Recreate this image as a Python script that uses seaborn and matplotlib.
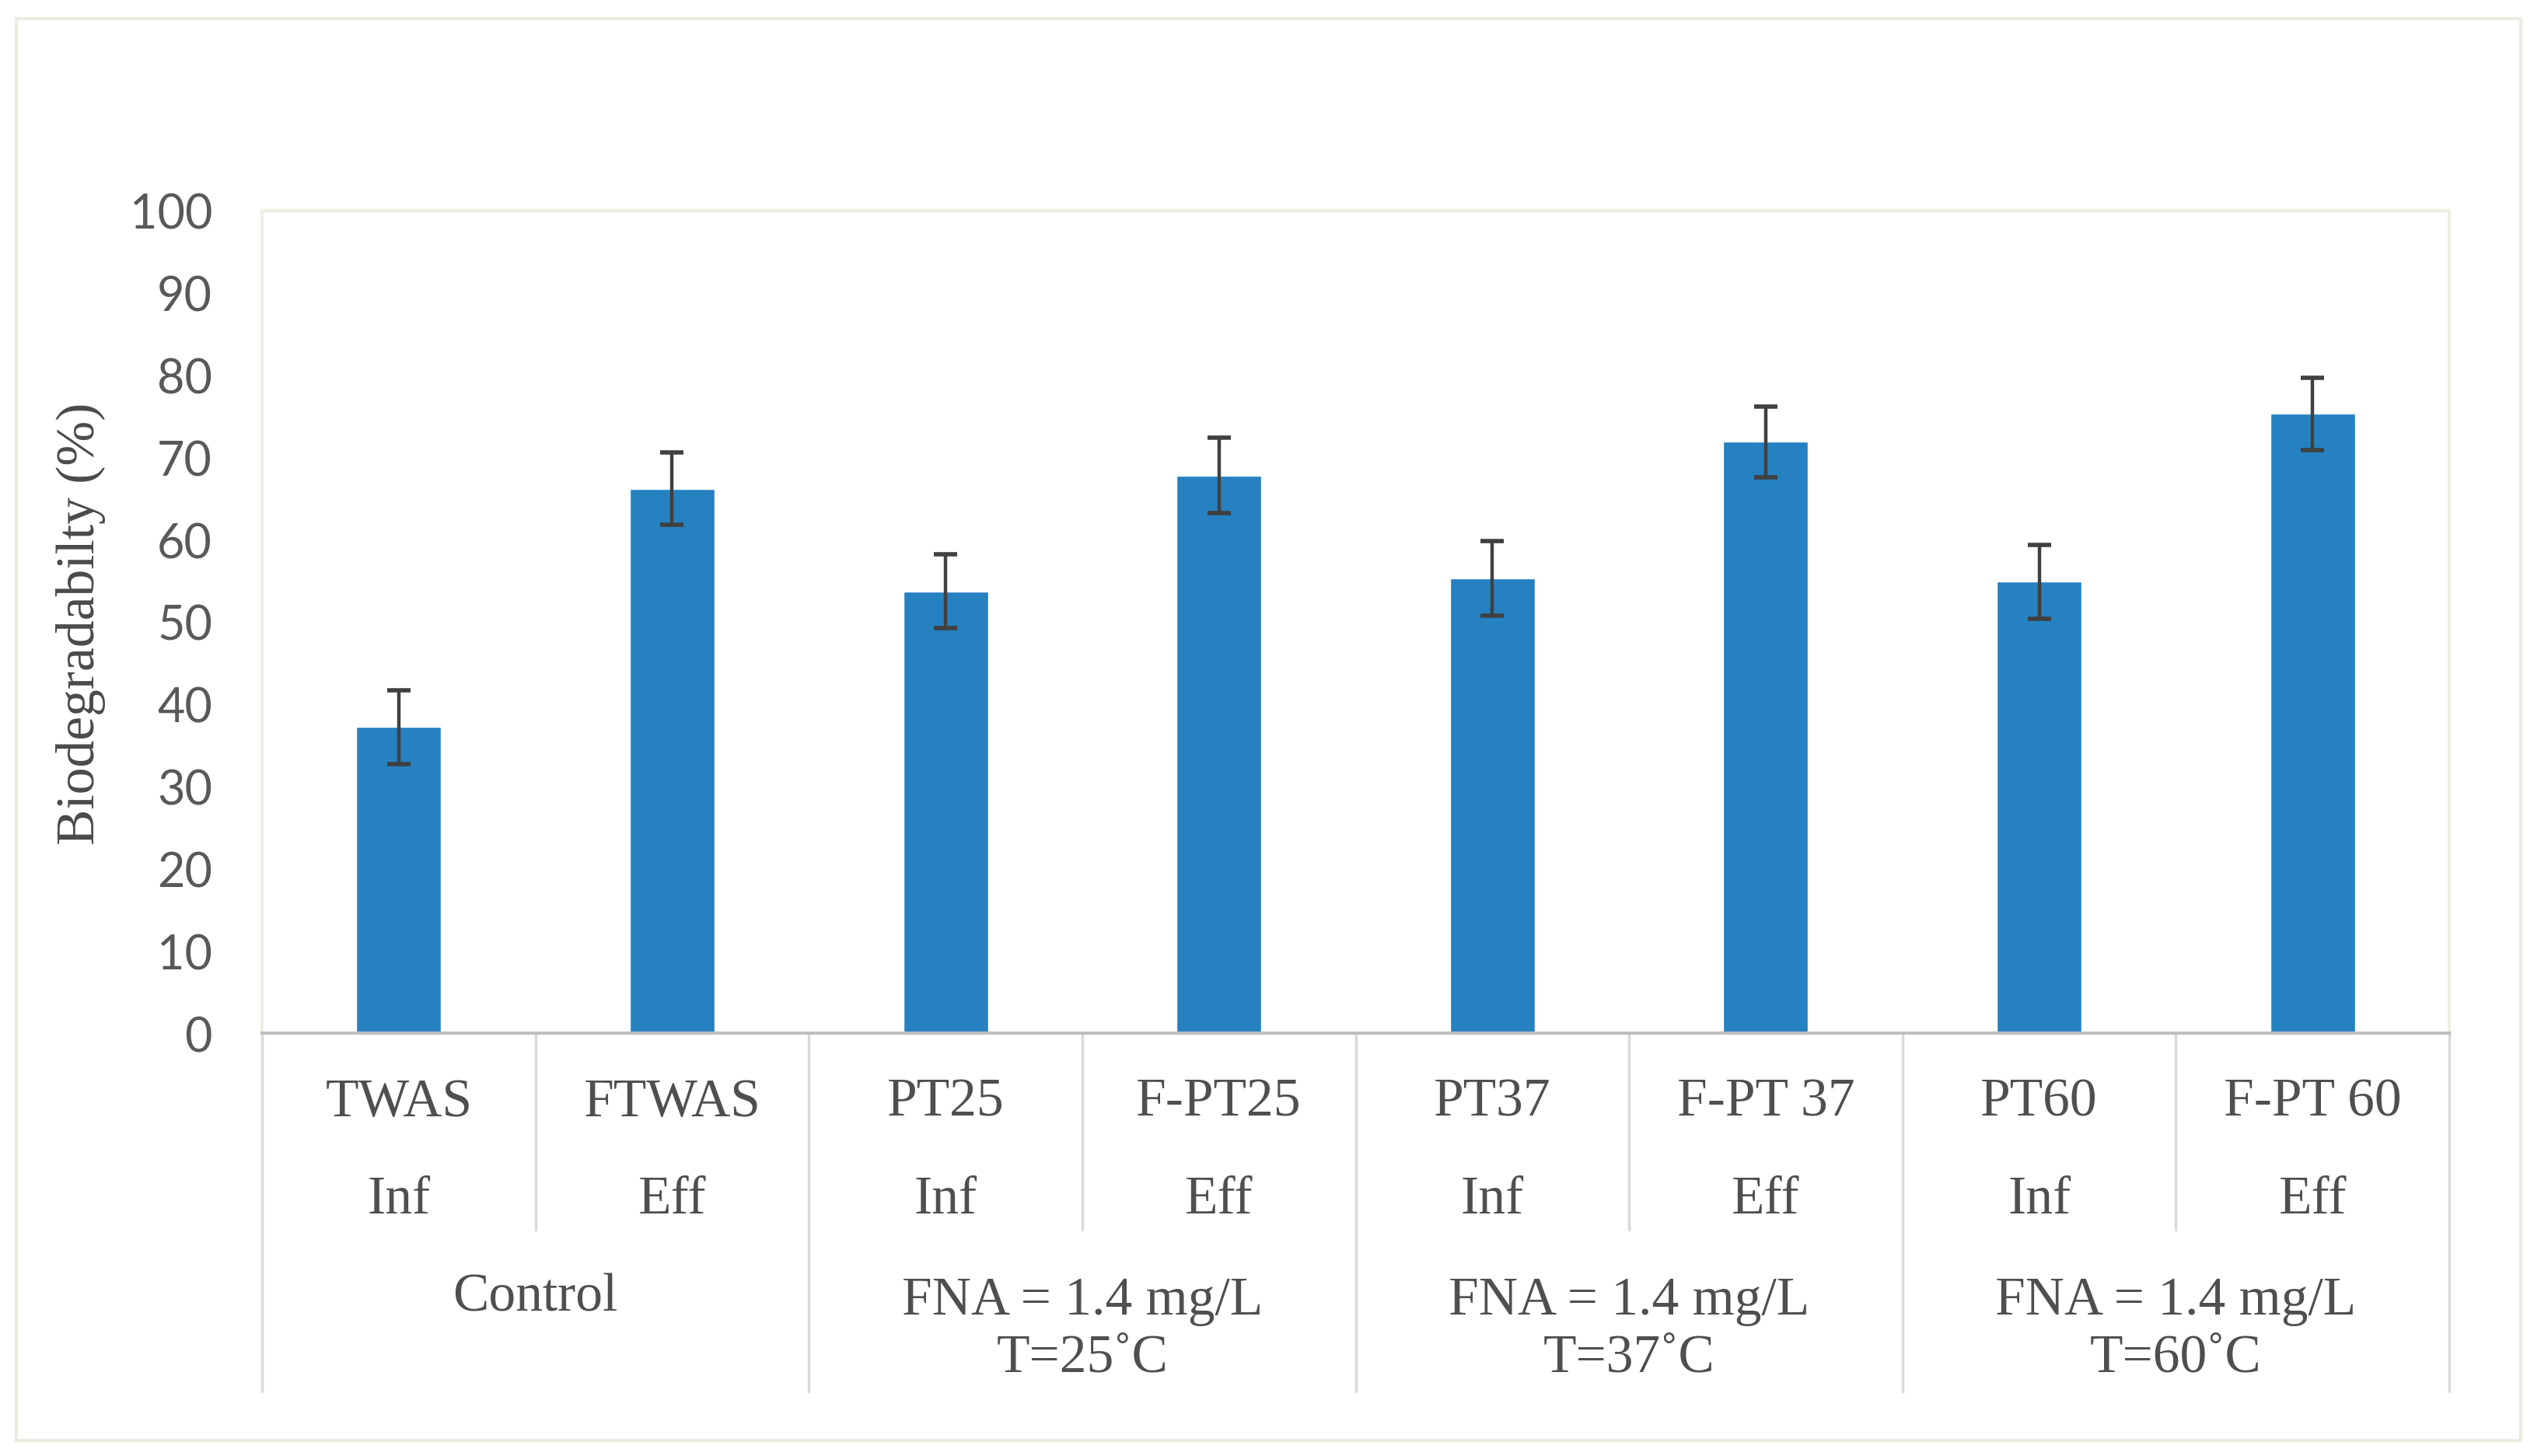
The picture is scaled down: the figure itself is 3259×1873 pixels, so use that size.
import matplotlib
matplotlib.use('Agg')
import matplotlib.pyplot as plt
import seaborn as sns
import pandas as pd
from matplotlib.transforms import blended_transform_factory
from matplotlib.patches import Rectangle

# data
samples = ['TWAS', 'FTWAS', 'PT25', 'F-PT25', 'PT37', 'F-PT 37', 'PT60', 'F-PT 60']
stages = ['Inf', 'Eff', 'Inf', 'Eff', 'Inf', 'Eff', 'Inf', 'Eff']
groups = ['Control', 'FNA = 1.4 mg/L\nT=25˚C', 'FNA = 1.4 mg/L\nT=37˚C', 'FNA = 1.4 mg/L\nT=60˚C']
values = [37.2, 66.2, 53.7, 67.8, 55.3, 71.9, 54.9, 75.3]
errors = [4.5, 4.4, 4.5, 4.6, 4.5, 4.3, 4.5, 4.4]

sns.set_theme(style='white')
plt.rcParams['font.family'] = ['Lato', 'DejaVu Sans']

W, H = 3259, 1874
fig = plt.figure(figsize=(W / 100, H / 100), dpi=100)
ax_l, ax_r, ax_t, ax_b = 337 / W, 3150 / W, 1 - 272 / H, 1 - 1330 / H
ax = fig.add_axes([ax_l, ax_b, ax_r - ax_l, ax_t - ax_b])

df = pd.DataFrame({'sample': samples, 'value': values})
sns.barplot(data=df, x='sample', y='value', color='#2681C1', saturation=1,
            width=0.31, errorbar=None, ax=ax)
ax.errorbar(range(len(values)), values, yerr=errors, fmt='none', ecolor='#404040',
            elinewidth=3.2, capsize=11, capthick=4, zorder=5)

ax.set_xlim(-0.5, len(samples) - 0.5)
ax.set_ylim(0, 100)
ax.set_yticks(range(0, 101, 10))
ax.set_xticks([])
ax.set_xlabel('')
ax.set_ylabel('')
ax.tick_params(axis='y', length=0, pad=46, labelsize=44, labelcolor='#595959')

for s in ['left', 'top', 'right']:
    ax.spines[s].set_color('#EEEEE4')
    ax.spines[s].set_linewidth(3)
ax.spines['bottom'].set_color('#BFBFBF')
ax.spines['bottom'].set_linewidth(3)

fig.text(104 / W, 0.572, 'Biodegradabilty (%)', rotation=90, ha='center', va='center',
         family='Liberation Serif', size=50, color='#4a4a4a')

# category table under the axis
trans = blended_transform_factory(ax.transData, fig.transFigure)
tab_bottom = 1 - 1791 / H
inner_bottom = 1 - 1583 / H
for i in range(len(samples) + 1):
    x = i - 0.5
    yb = tab_bottom if i % 2 == 0 else inner_bottom
    ax.plot([x, x], [ax_b, yb], transform=trans, clip_on=False, color='#D9D9D9', lw=2.5)

txt = dict(transform=trans, ha='center', va='center', family='Liberation Serif',
           size=50, color='#4f4f4f')
for i in range(len(samples)):
    ax.text(i, 0.2428, samples[i], **txt)
    ax.text(i, 0.176, stages[i], **txt)
for j, g in enumerate(groups):
    y = 0.109 if '\n' not in g else 0.087
    ax.text(2 * j + 0.5, y, g, linespacing=1.2, **txt)

# outer frame
fig.patches.append(Rectangle((21 / W, 1 - 1854 / H), (3242 - 21) / W, (1854 - 25) / H,
                             transform=fig.transFigure, fill=False,
                             edgecolor='#ECECE2', lw=3))

fig.savefig('out.png', dpi=100)
